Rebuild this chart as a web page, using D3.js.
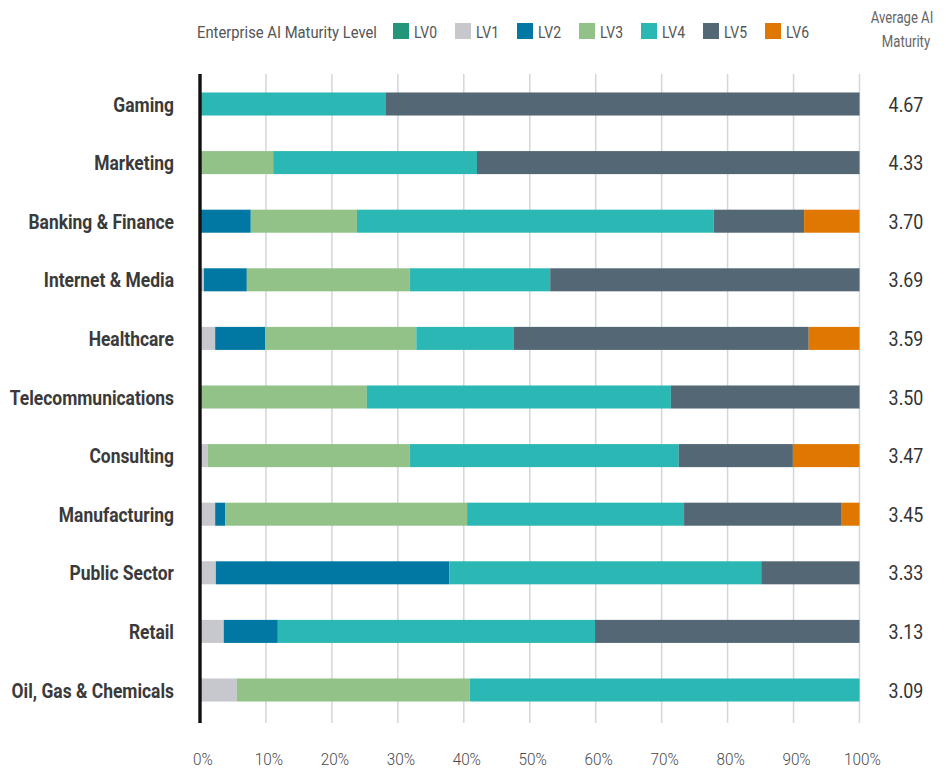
<!DOCTYPE html>
<html lang="en">
<head>
  <meta charset="UTF-8">
  <title>Enterprise AI Maturity</title>
  <style>
    body { margin: 0; background: #fff; }
    text { font-family: Roboto, "DejaVu Sans Condensed", sans-serif; }
  </style>
</head>
<body>
  <svg id="svg" width="947" height="768"></svg>

  <script src="https://d3js.org/d3.v7.min.js"></script>
  <script>
    // Industries, top to bottom
    const categories = ['Gaming', 'Marketing', 'Banking & Finance', 'Internet & Media', 'Healthcare',
      'Telecommunications', 'Consulting', 'Manufacturing', 'Public Sector', 'Retail', 'Oil, Gas & Chemicals']
    const levels = ['LV0', 'LV1', 'LV2', 'LV3', 'LV4', 'LV5', 'LV6']
    const levelColors = ['#23967a', '#c6c8cd', '#0178a4', '#93c289', '#2bb7b4', '#546775', '#e07700']

    // share of companies at each level (%)
    const lv0 = [0, 0, 0, 0, 0, 0, 0, 0, 0, 0, 0]
    const lv1 = [0, 0, 0, 0.6, 2.3, 0, 1.2, 2.3, 2.4, 3.6, 5.6]
    const lv2 = [0, 0, 7.7, 6.5, 7.6, 0, 0, 1.5, 35.4, 8.2, 0]
    const lv3 = [0, 11.1, 16.1, 24.7, 22.9, 25.3, 30.6, 36.7, 0, 0, 35.3]
    const lv4 = [28.2, 30.9, 54.1, 21.3, 14.8, 46.1, 40.8, 32.9, 47.3, 48.1, 59.1]
    const lv5 = [71.8, 58.0, 13.7, 46.9, 44.7, 28.6, 17.3, 23.8, 14.9, 40.1, 0]
    const lv6 = [0, 0, 8.4, 0, 7.7, 0, 10.1, 2.8, 0, 0, 0]
    const averages = ['4.67', '4.33', '3.70', '3.69', '3.59', '3.50', '3.47', '3.45', '3.33', '3.13', '3.09']

    const tickValues = [0, 10, 20, 30, 40, 50, 60, 70, 80, 90, 100]

    // build rows for d3.stack
    const series = [lv0, lv1, lv2, lv3, lv4, lv5, lv6]
    const rows = categories.map((c, i) => {
      const r = { category: c }
      levels.forEach((lv, j) => { r[lv] = series[j][i] })
      return r
    })

    // squeeze text horizontally to mimic the condensed face of the original
    function condense(sel, k) {
      sel.each(function () {
        const w = this.getComputedTextLength()
        d3.select(this).attr('textLength', w * k).attr('lengthAdjust', 'spacingAndGlyphs')
      })
    }

    const svg = d3.select('#svg')

    const x = d3.scaleLinear().domain([0, 100]).range([200, 859.5])
    const y = d3.scaleBand()
      .domain(categories)
      .range([74.7, 719.3])
      .paddingInner(0.607)
      .paddingOuter(0.3035)
    const color = d3.scaleOrdinal().domain(levels).range(levelColors)

    // gridlines
    svg.append('g')
      .selectAll('line')
      .data(tickValues.slice(1))
      .join('line')
      .attr('x1', d => x(d))
      .attr('x2', d => x(d))
      .attr('y1', 74)
      .attr('y2', 723)
      .attr('stroke', '#d3d6da')
      .attr('stroke-width', 1.5)

    // stacked bars
    const stacked = d3.stack().keys(levels)(rows)
    svg.append('g')
      .selectAll('g')
      .data(stacked)
      .join('g')
      .attr('fill', d => color(d.key))
      .selectAll('rect')
      .data(d => d.filter(s => s[1] - s[0] > 0))
      .join('rect')
      .attr('x', d => x(d[0]))
      .attr('width', d => x(d[1]) - x(d[0]))
      .attr('y', d => y(d.data.category))
      .attr('height', y.bandwidth())

    // baseline
    svg.append('line')
      .attr('x1', x(0)).attr('x2', x(0))
      .attr('y1', 74).attr('y2', 723)
      .attr('stroke', '#111')
      .attr('stroke-width', 3.4)

    // category labels
    svg.append('g')
      .selectAll('text')
      .data(categories)
      .join('text')
      .attr('x', 174)
      .attr('y', d => y(d) + y.bandwidth() / 2)
      .attr('dy', '0.36em')
      .attr('text-anchor', 'end')
      .attr('font-size', 21)
      .attr('font-weight', 'bold')
      .attr('fill', '#3a3a3a')
      .text(d => d)
      .call(condense, 0.83)

    // average values on the right
    svg.append('g')
      .selectAll('text')
      .data(averages)
      .join('text')
      .attr('x', 906)
      .attr('y', (d, i) => y(categories[i]) + y.bandwidth() / 2)
      .attr('dy', '0.36em')
      .attr('text-anchor', 'middle')
      .attr('font-size', 21)
      .attr('font-weight', 400)
      .attr('fill', '#333')
      .text(d => d)
      .call(condense, 0.85)

    // x tick labels
    svg.append('g')
      .selectAll('text')
      .data(tickValues)
      .join('text')
      .attr('x', d => x(d) + 3)
      .attr('y', 765)
      .attr('text-anchor', 'middle')
      .attr('font-size', 17)
      .attr('font-weight', 300)
      .attr('fill', '#4a4a4a')
      .text(d => d + '%')
      .call(condense, 0.9)

    // legend
    const legend = svg.append('g')
    legend.append('text')
      .attr('x', 197).attr('y', 38)
      .attr('font-size', 17)
      .attr('fill', '#555')
      .text('Enterprise AI Maturity Level')
      .call(condense, 0.87)

    const item = legend.selectAll('g.item')
      .data(levels)
      .join('g')
      .attr('class', 'item')
      .attr('transform', (d, i) => `translate(${393 + i * 62}, 23)`)
    item.append('rect')
      .attr('width', 16).attr('height', 16)
      .attr('fill', d => color(d))
    item.append('text')
      .attr('x', 21).attr('y', 15)
      .attr('font-size', 17)
      .attr('fill', '#555')
      .text(d => d)
      .call(condense, 0.82)

    // right header
    svg.append('text')
      .attr('x', 902).attr('y', 23)
      .attr('text-anchor', 'middle')
      .attr('font-size', 16)
      .attr('fill', '#666')
      .text('Average AI')
      .call(condense, 0.82)
    svg.append('text')
      .attr('x', 906).attr('y', 47)
      .attr('text-anchor', 'middle')
      .attr('font-size', 16)
      .attr('fill', '#666')
      .text('Maturity')
      .call(condense, 0.82)
  </script>
</body>
</html>
